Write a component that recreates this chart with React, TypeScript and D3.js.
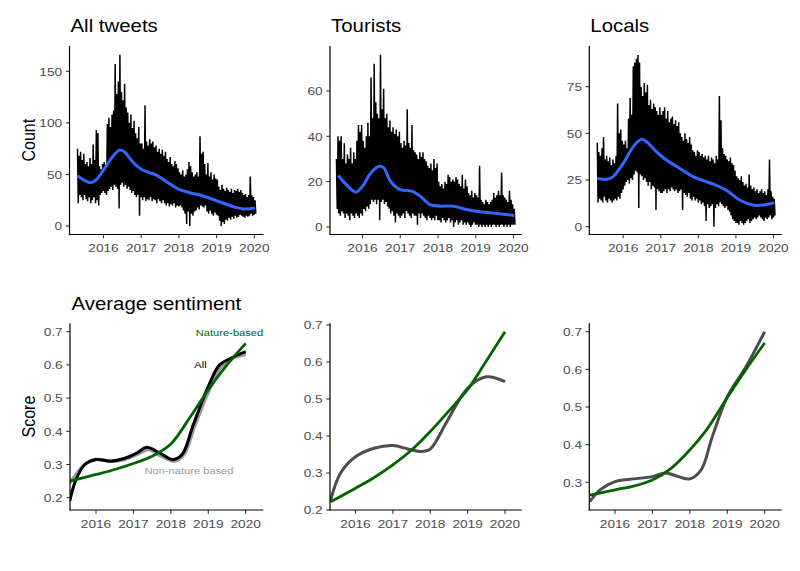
import React from 'react';
import * as d3 from 'd3';

// ---------- DATA ----------
// Half-monthly spike envelopes of daily counts, starting 2015.31, step 1/24 year
const START = 2015.31;
const STEP = 1 / 24;

const allHigh = [
  75, 68, 72, 64, 70, 60, 62, 58, 66, 60, 79, 64, 93, 90, 58, 55, 60,
  62, 58, 99, 105, 96, 108, 112, 157, 128, 140, 166, 130, 122, 138, 115, 110, 100, 108, 95, 102, 90, 85, 96, 80,
  80, 75, 117, 82, 78, 84, 80, 82, 76, 78, 72, 75, 70, 74, 68, 72, 65, 62, 67, 60, 58, 63, 60, 56,
  52, 50, 54, 48, 50, 55, 62, 58, 52, 48, 50, 52, 48, 87, 70, 72, 60, 50, 61, 48, 52, 45, 50, 46,
  45, 38, 35, 40, 36, 34, 37, 35, 33, 36, 32, 35, 34, 36, 33, 35, 32, 30, 31, 28, 30, 48, 30, 28,
  25,
];
const allLow = [
  22, 30, 28, 25, 30, 26, 24, 28, 22, 25, 28, 22, 25, 20, 30, 32, 34,
  32, 30, 34, 36, 38, 35, 40, 38, 36, 17, 40, 42, 38, 40, 36, 38, 35, 32, 34, 30, 28, 30, 10, 28,
  25, 28, 24, 26, 25, 28, 24, 26, 25, 22, 26, 24, 22, 25, 22, 20, 22, 19, 21, 20, 22, 18, 20, 19,
  20, 18, 15, 12, 2, 14, 0, 12, 10, 14, 15, 18, 16, 20, 19, 18, 20, 14, 12, 15, 12, 10, 13, 11,
  10, 5, 0, 4, 2, 6, 5, 8, 6, 9, 7, 10, 8, 9, 11, 10, 9, 8, 10, 9, 10, 12, 10, 11,
  12,
];
const tourHigh = [
  30, 40, 38, 40, 30, 37, 28, 32, 30, 35, 28, 33, 30, 38, 45, 42, 45,
  38, 35, 40, 46, 40, 66, 48, 72, 55, 50, 48, 76, 52, 61, 48, 50, 44, 47, 42, 44, 41, 43, 40, 42,
  37, 35, 38, 36, 52, 37, 35, 45, 34, 33, 32, 30, 33, 31, 33, 30, 29, 27, 26, 28, 25, 30, 26, 28,
  20, 18, 19, 17, 20, 19, 23, 22, 20, 21, 20, 22, 21, 19, 18, 23, 17, 21, 18, 15, 14, 16, 13, 15,
  14, 13, 27, 12, 11, 10, 12, 11, 10, 11, 12, 15, 13, 14, 16, 14, 24, 14, 13, 12, 11, 16, 12, 10,
  8,
];
const tourLow = [
  8, 6, 5, 7, 6, 4, 6, 5, 3, 6, 5, 4, 6, 5, 4, 6, 5,
  8, 7, 9, 8, 10, 12, 11, 12, 10, 12, 3, 11, 12, 10, 11, 9, 8, 6, 7, 5, 2, 6, 5, 4,
  5, 6, 4, 7, 6, 5, 4, 6, 5, 5, 1, 6, 4, 6, 5, 4, 3, 5, 4, 3, 4, 3, 5, 3,
  3, 2, 4, 3, 2, 3, 4, 2, 3, 0, 2, 3, 1, 2, 3, 1, 2, 1, 2, 1, 0, 1, 2, 1,
  1, 0, 1, 0, 1, 0, 1, 0, 1, 0, 1, 1, 0, 1, 0, 1, 1, 0, 1, 0, 1, 0, 1, 1,
  1,
];
const locHigh = [
  45, 40, 38, 42, 48, 36, 38, 35, 37, 33, 36, 34, 38, 66, 50, 52, 46,
  44, 46, 42, 58, 69, 60, 86, 88, 90, 92, 88, 75, 70, 77, 72, 76, 65, 68, 63, 66, 64, 62, 60, 64,
  60, 62, 64, 58, 62, 56, 58, 59, 55, 57, 54, 56, 50, 48, 46, 50, 47, 45, 48, 44, 41, 40, 38, 41,
  40, 38, 39, 37, 38, 36, 38, 35, 37, 36, 34, 38, 36, 70, 57, 42, 39, 38, 36, 35, 37, 34, 33, 30,
  27, 26, 25, 27, 24, 22, 23, 21, 28, 22, 20, 21, 19, 20, 18, 19, 20, 18, 19, 17, 20, 36, 19, 16,
  15,
];
const locLow = [
  13, 15, 14, 13, 16, 14, 13, 15, 14, 13, 14, 15, 14, 16, 15, 18, 20,
  22, 24, 25, 23, 26, 25, 28, 30, 29, 10, 28, 27, 25, 26, 24, 22, 24, 20, 22, 21, 9, 20, 19, 18,
  18, 19, 20, 18, 20, 19, 21, 20, 19, 20, 18, 19, 20, 9, 18, 17, 16, 18, 15, 14, 16, 14, 15, 13,
  14, 12, 13, 11, 3, 12, 10, 11, 12, 0, 10, 12, 11, 13, 12, 11, 10, 11, 9, 8, 6, 4, 3, 2,
  2, 1, 3, 2, 1, 2, 3, 4, 2, 3, 4, 5, 4, 5, 6, 5, 4, 3, 5, 4, 5, 6, 4, 5,
  6,
];

// Smoothed counts (blue)
const allSmoothYears = [2015.31, 2015.48, 2015.66, 2015.8, 2016.0, 2016.24, 2016.42, 2016.55, 2016.78, 2017.0, 2017.22, 2017.4, 2017.67, 2018.0, 2018.29, 2018.56, 2019.0, 2019.45, 2019.72, 2020.02];
const allSmooth = [48.8, 44.6, 42, 44.6, 54.3, 67, 73.6, 72, 62, 55, 51.7, 49.4, 43, 35.5, 32.3, 30, 24.5, 18.7, 16.5, 17.4];
const tourSmoothYears = [2015.36, 2015.61, 2015.825, 2016.0, 2016.22, 2016.44, 2016.57, 2016.74, 2017.0, 2017.31, 2017.53, 2017.79, 2018.06, 2018.41, 2018.76, 2019.11, 2019.54, 2020.02];
const tourSmooth = [22.7, 18, 15.4, 18, 23.8, 26.8, 26, 20.2, 16.5, 15.8, 13.6, 9.9, 9.2, 9.2, 7.7, 6.7, 6.0, 5.1];
const locSmoothYears = [2015.31, 2015.56, 2015.73, 2016.0, 2016.27, 2016.49, 2016.62, 2016.885, 2017.15, 2017.5, 2017.86, 2018.39, 2018.74, 2019.1, 2019.45, 2019.72, 2020.02];
const locSmooth = [25.9, 25.4, 26.8, 33.9, 42.9, 46.8, 45.5, 40.2, 35.7, 31.3, 26.8, 22.9, 19.6, 14.3, 11.6, 11.6, 12.9];

// Sentiment (All tweets panel)
const sentAllYears = [2015.3, 2015.45, 2015.7, 2016.0, 2016.4, 2016.75, 2017.1, 2017.35, 2017.7, 2018.05, 2018.3, 2018.6, 2019.0, 2019.3, 2019.6, 2020.0];
const sentAll = [0.19, 0.25, 0.3, 0.315, 0.31, 0.318, 0.335, 0.352, 0.335, 0.315, 0.33, 0.42, 0.535, 0.6, 0.62, 0.64];
const sentNonYears = [2015.3, 2015.7, 2016.0, 2016.4, 2016.75, 2017.1, 2017.4, 2017.75, 2018.1, 2018.35, 2018.65, 2019.05, 2019.35, 2019.65, 2020.0];
const sentNon = [0.244, 0.3, 0.315, 0.31, 0.315, 0.33, 0.345, 0.325, 0.31, 0.33, 0.42, 0.53, 0.595, 0.62, 0.632];
const sentNatYears = [2015.3, 2016.0, 2016.5, 2017.0, 2017.5, 2018.0, 2018.5, 2019.0, 2019.5, 2020.0];
const sentNat = [0.25, 0.27, 0.285, 0.303, 0.325, 0.362, 0.44, 0.525, 0.6, 0.665];
// Tourists
const tourNatYears = [2015.33, 2016, 2016.5, 2017, 2017.5, 2018, 2018.5, 2019, 2019.5, 2020];
const tourNat = [0.222, 0.259, 0.288, 0.322, 0.362, 0.412, 0.468, 0.526, 0.603, 0.682];
const tourNonYears = [2015.33, 2015.6, 2016, 2016.5, 2017, 2017.4, 2017.75, 2018, 2018.45, 2019, 2019.5, 2020];
const tourNon = [0.225, 0.3, 0.344, 0.367, 0.374, 0.365, 0.358, 0.365, 0.44, 0.529, 0.56, 0.547];
// Locals
const locNatYears = [2015.33, 2016, 2016.5, 2017, 2017.5, 2018, 2018.45, 2019, 2019.5, 2020];
const locNat = [0.266, 0.28, 0.29, 0.306, 0.337, 0.386, 0.44, 0.525, 0.6, 0.67];
const locNonYears = [2015.33, 2015.6, 2016, 2016.4, 2017, 2017.35, 2017.7, 2018, 2018.3, 2018.6, 2019, 2019.5, 2020];
const locNon = [0.249, 0.28, 0.302, 0.308, 0.315, 0.325, 0.315, 0.309, 0.333, 0.421, 0.527, 0.607, 0.7];

const xTickYears = [2016, 2017, 2018, 2019, 2020];
const countTicksAll = [0, 50, 100, 150];
const countTicksTour = [0, 20, 40, 60];
const countTicksLoc = [0, 25, 50, 75];
const scoreTicksAll = [0.2, 0.3, 0.4, 0.5, 0.6, 0.7];
const scoreTicksTour = [0.2, 0.3, 0.4, 0.5, 0.6, 0.7];
const scoreTicksLoc = [0.3, 0.4, 0.5, 0.6, 0.7];
const topTitles = ['All tweets', 'Tourists', 'Locals'];
const bottomTitle = 'Average sentiment';
const annLabels = ['Nature-based', 'All', 'Non-nature based'];

// ---------- STYLE ----------
const FONT = '"Liberation Sans", Arial, Helvetica, sans-serif';
const SX = 1.16;
const BLUE = '#3366FF';
const GREEN = '#006400';
const DGRAY = '#4D4D4D';
const LGRAY = '#999999';

type Geo = {
  left: number; right: number; top: number; bottom: number;
  x16: number; x20: number; ya: [number, number]; yb: [number, number]; labelY: number;
};

function HText(p: { x: number; y: number; size: number; anchor?: string; fill?: string; children: any }) {
  return (
    <text
      transform={`translate(${p.x},${p.y}) scale(${SX},1)`}
      textAnchor={p.anchor || 'start'}
      fontSize={p.size}
      fill={p.fill || '#000'}
      fontFamily={FONT}
    >
      {p.children}
    </text>
  );
}

function scales(g: Geo) {
  const xs = d3.scaleLinear().domain([2016, 2020]).range([g.x16, g.x20]);
  const ys = d3.scaleLinear().domain([g.ya[0], g.yb[0]]).range([g.ya[1], g.yb[1]]);
  return { xs, ys };
}

function Axes({ g, yTicks, fmt }: { g: Geo; yTicks: number[]; fmt: (v: number) => string }) {
  const { xs, ys } = scales(g);
  return (
    <g>
      {xTickYears.map((t) => (
        <g key={'x' + t}>
          <line x1={xs(t)} x2={xs(t)} y1={g.bottom} y2={g.bottom + 3.7} stroke="#333" strokeWidth={1.1} />
          <HText x={xs(t)} y={g.labelY} size={11.8} anchor="middle" fill="#4D4D4D">{String(t)}</HText>
        </g>
      ))}
      {yTicks.map((v) => (
        <g key={'y' + v}>
          <line x1={g.left - 3.7} x2={g.left} y1={ys(v)} y2={ys(v)} stroke="#333" strokeWidth={1.1} />
          <HText x={g.left - 7.3} y={ys(v) + 4.2} size={11.8} anchor="end" fill="#4D4D4D">{fmt(v)}</HText>
        </g>
      ))}
      <line x1={g.left} x2={g.left} y1={g.top} y2={g.bottom + 0.6} stroke="#000" strokeWidth={1.2} />
      <line x1={g.left - 0.6} x2={g.right} y1={g.bottom} y2={g.bottom} stroke="#000" strokeWidth={1.2} />
    </g>
  );
}

function CountPanel({ id, g, high, low, sYears, sVals, yTicks, title }: any) {
  const { xs, ys } = scales(g);
  const pts: [number, number][] = [];
  high.forEach((h: number, i: number) => {
    pts.push([START + i * STEP, h]);
    pts.push([START + (i + 0.5) * STEP, low[i]]);
  });
  const line = d3.line<[number, number]>().x((d) => xs(d[0])).y((d) => ys(d[1]));
  const smooth = d3
    .line<number>()
    .x((_, i) => xs(sYears[i]))
    .y((d) => ys(d))
    .curve(d3.curveCatmullRom.alpha(0.5));
  return (
    <g>
      <defs>
        <clipPath id={id}>
          <rect x={g.left} y={g.top} width={g.right - g.left} height={g.bottom - g.top} />
        </clipPath>
      </defs>
      <g clipPath={`url(#${id})`}>
        <path d={line(pts) || ''} fill="none" stroke="#000" strokeWidth={1.5} strokeLinejoin="miter" strokeMiterlimit={2} />
        <path d={smooth(sVals) || ''} fill="none" stroke={BLUE} strokeWidth={3} />
      </g>
      <Axes g={g} yTicks={yTicks} fmt={(v) => String(v)} />
      <HText x={g.left + 1} y={32} size={17.6}>{title}</HText>
    </g>
  );
}

function SentPanel({ id, g, series, yTicks, children }: any) {
  const { xs, ys } = scales(g);
  return (
    <g>
      <defs>
        <clipPath id={id}>
          <rect x={g.left} y={g.top} width={g.right - g.left} height={g.bottom - g.top} />
        </clipPath>
      </defs>
      <g clipPath={`url(#${id})`}>
        {series.map((s: any, k: number) => {
          const ln = d3
            .line<number>()
            .x((_, i) => xs(s.years[i]))
            .y((d) => ys(d))
            .curve(d3.curveCatmullRom.alpha(0.5));
          return <path key={k} d={ln(s.values) || ''} fill="none" stroke={s.color} strokeWidth={s.width} />;
        })}
      </g>
      <Axes g={g} yTicks={yTicks} fmt={d3.format('.1f')} />
      {children}
    </g>
  );
}

export default function App() {
  const topBase = { top: 46, bottom: 234.5, labelY: 252 };
  const gTL: Geo = { ...topBase, left: 69.5, right: 263.5, x16: 103.5, x20: 254.3, ya: [0, 226], yb: [150, 71.3] };
  const gTM: Geo = { ...topBase, left: 330, right: 521.7, x16: 362.5, x20: 513.5, ya: [0, 227], yb: [60, 91] };
  const gTR: Geo = { ...topBase, left: 589.3, right: 781.7, x16: 623.2, x20: 773.5, ya: [0, 226.7], yb: [75, 86.7] };
  const botBase = { top: 323.3, bottom: 510, labelY: 528.3 };
  const gBL: Geo = { ...botBase, left: 70, right: 263.3, x16: 96, x20: 245.7, ya: [0.2, 497.7], yb: [0.7, 331.7] };
  const gBM: Geo = { ...botBase, left: 330, right: 521.7, x16: 355.5, x20: 505, ya: [0.2, 510], yb: [0.7, 325] };
  const gBR: Geo = { ...botBase, left: 589.3, right: 781.7, x16: 615, x20: 764.7, ya: [0.3, 482.3], yb: [0.7, 331.7] };

  return (
    <div style={{ position: 'absolute', left: 0, top: 0, width: 800, height: 571, background: '#fff' }}>
      <svg width={800} height={571} style={{ display: 'block' }}>
        <rect width={800} height={571} fill="#fff" />
        <CountPanel id="cTL" g={gTL} high={allHigh} low={allLow} sYears={allSmoothYears} sVals={allSmooth} yTicks={countTicksAll} title={topTitles[0]} />
        <CountPanel id="cTM" g={gTM} high={tourHigh} low={tourLow} sYears={tourSmoothYears} sVals={tourSmooth} yTicks={countTicksTour} title={topTitles[1]} />
        <CountPanel id="cTR" g={gTR} high={locHigh} low={locLow} sYears={locSmoothYears} sVals={locSmooth} yTicks={countTicksLoc} title={topTitles[2]} />

        <SentPanel
          id="cBL"
          g={gBL}
          yTicks={scoreTicksAll}
          series={[
            { years: sentNonYears, values: sentNon, color: LGRAY, width: 3.4 },
            { years: sentAllYears, values: sentAll, color: '#000', width: 3 },
            { years: sentNatYears, values: sentNat, color: GREEN, width: 2.8 },
          ]}
        >
          <HText x={229.5} y={336} size={9.6} anchor="middle" fill={GREEN}>{annLabels[0]}</HText>
          <HText x={200.5} y={368.3} size={9.6} anchor="middle" fill="#000">{annLabels[1]}</HText>
          <HText x={189} y={474.3} size={9.6} anchor="middle" fill={LGRAY}>{annLabels[2]}</HText>
          <HText x={gBL.left + 1.5} y={310} size={17.6}>{bottomTitle}</HText>
        </SentPanel>
        <SentPanel
          id="cBM"
          g={gBM}
          yTicks={scoreTicksTour}
          series={[
            { years: tourNonYears, values: tourNon, color: DGRAY, width: 3 },
            { years: tourNatYears, values: tourNat, color: GREEN, width: 2.8 },
          ]}
        />
        <SentPanel
          id="cBR"
          g={gBR}
          yTicks={scoreTicksLoc}
          series={[
            { years: locNonYears, values: locNon, color: DGRAY, width: 3 },
            { years: locNatYears, values: locNat, color: GREEN, width: 2.8 },
          ]}
        />

        <text transform={`translate(35,140.2) scale(${SX},1) rotate(-90)`} textAnchor="middle" fontSize={16} fontFamily={FONT} fill="#000">Count</text>
        <text transform={`translate(35,416.6) scale(${SX},1) rotate(-90)`} textAnchor="middle" fontSize={16} fontFamily={FONT} fill="#000">Score</text>
      </svg>
    </div>
  );
}
